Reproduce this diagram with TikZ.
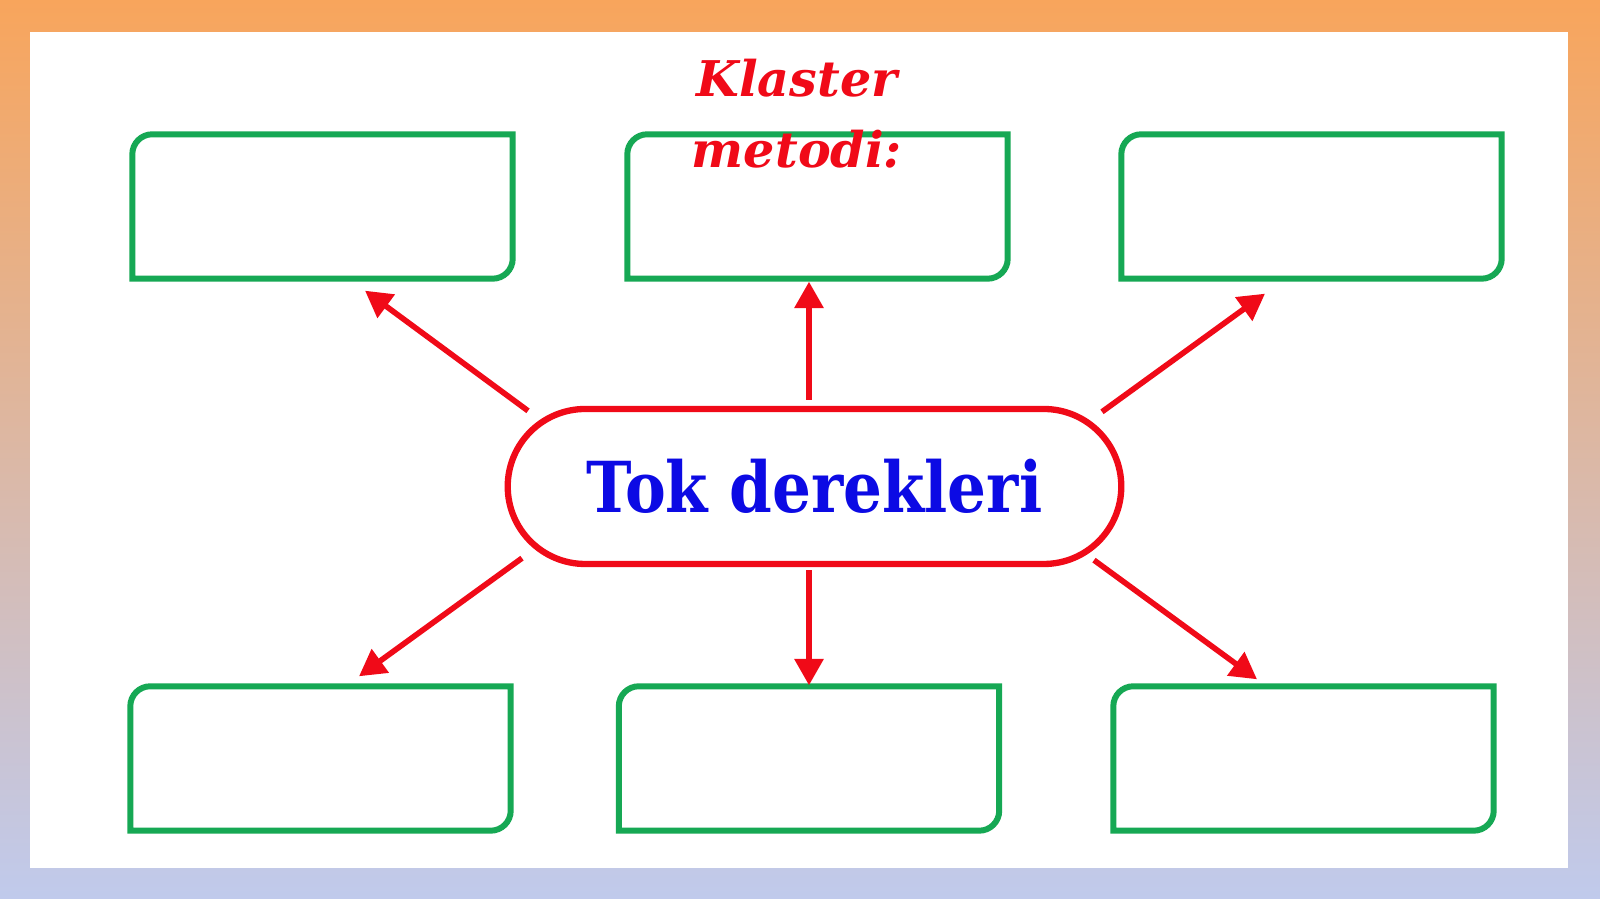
\documentclass[tikz,border=0pt]{standalone}
\usepackage{fontspec}
\setmainfont{DejaVu Serif}
\newfontfamily\hubfont[FakeStretch=0.87]{DejaVu Serif}
\usepackage{xcolor}
\usepackage{tikz}
\usetikzlibrary{arrows.meta,shapes.misc}
\definecolor{bgtop}{RGB}{248,165,92}
\definecolor{bgmid}{RGB}{186,174,188}
\definecolor{bgbot}{RGB}{192,202,236}
\definecolor{boxgreen}{RGB}{22,168,84}
\definecolor{spokered}{RGB}{240,10,24}
\definecolor{hubblue}{RGB}{12,10,228}

\begin{document}
\begin{tikzpicture}[scale=1.0,
  cell/.style={rectangle, minimum width=3.79cm, minimum height=1.43cm, inner sep=0pt},
  cellline/.style={draw=boxgreen, line width=1.7pt},
  spoke/.style={draw=spokered, line width=1.6pt, -{Triangle[length=7.5pt,width=8pt]}},
  ]
  \useasboundingbox (0,0) rectangle (16,8.99);
  \shade[top color=bgtop, middle color=bgmid, bottom color=bgbot] (0,0) rectangle (16,8.99);
  \fill[white] (0.30,0.31) rectangle (15.68,8.67);

  % empty cells of the cluster
  \node[cell] (c1) at (3.225,6.925) {};
  \node[cell] (c2) at (8.175,6.925) {};
  \node[cell] (c3) at (13.115,6.925) {};
  \node[cell] (c4) at (3.205,1.405) {};
  \node[cell] (c5) at (8.090,1.405) {};
  \node[cell] (c6) at (13.035,1.405) {};
  \foreach \c in {c1,c2,c3,c4,c5,c6}
    \draw[cellline] (\c.north east) -- ([xshift=0.2cm]\c.north west)
      arc[start angle=90, end angle=180, radius=0.2cm] -- (\c.south west)
      -- ([xshift=-0.2cm]\c.south east)
      arc[start angle=270, end angle=360, radius=0.2cm] -- cycle;

  % centre
  \node[rounded rectangle, draw=spokered, line width=1.8pt, minimum width=6.37cm, minimum height=1.55cm,
        font=\hubfont\fontsize{20}{24}\selectfont\bfseries, text=hubblue] (hub) at (8.145,4.125) {Tok derekleri};

  \node[font=\fontsize{14}{20.2}\selectfont\bfseries\itshape, text=spokered, align=center, anchor=base]
       (title) at (7.97,7.31) {Klaster\\metodi:};

  \draw[spoke] ([xshift=-2.865cm,yshift=-0.05cm]hub.north) -- ([xshift=0.425cm,yshift=-0.12cm]c1.south);
  \draw[spoke] ([xshift=-0.055cm,yshift=0.06cm]hub.north) -- ([xshift=-0.085cm,yshift=-0.03cm]c2.south);
  \draw[spoke] ([xshift=2.875cm,yshift=-0.06cm]hub.north) -- ([xshift=-0.465cm,yshift=-0.15cm]c3.south);
  \draw[spoke] ([xshift=-2.925cm,yshift=0.09cm]hub.south) -- ([xshift=0.385cm,yshift=0.10cm]c4.north);
  \draw[spoke] ([xshift=-0.055cm,yshift=-0.03cm]hub.south) -- ([yshift=0.01cm]c5.north);
  \draw[spoke] ([xshift=2.795cm,yshift=0.07cm]hub.south) -- ([xshift=-0.465cm,yshift=0.07cm]c6.north);
\end{tikzpicture}
\end{document}
